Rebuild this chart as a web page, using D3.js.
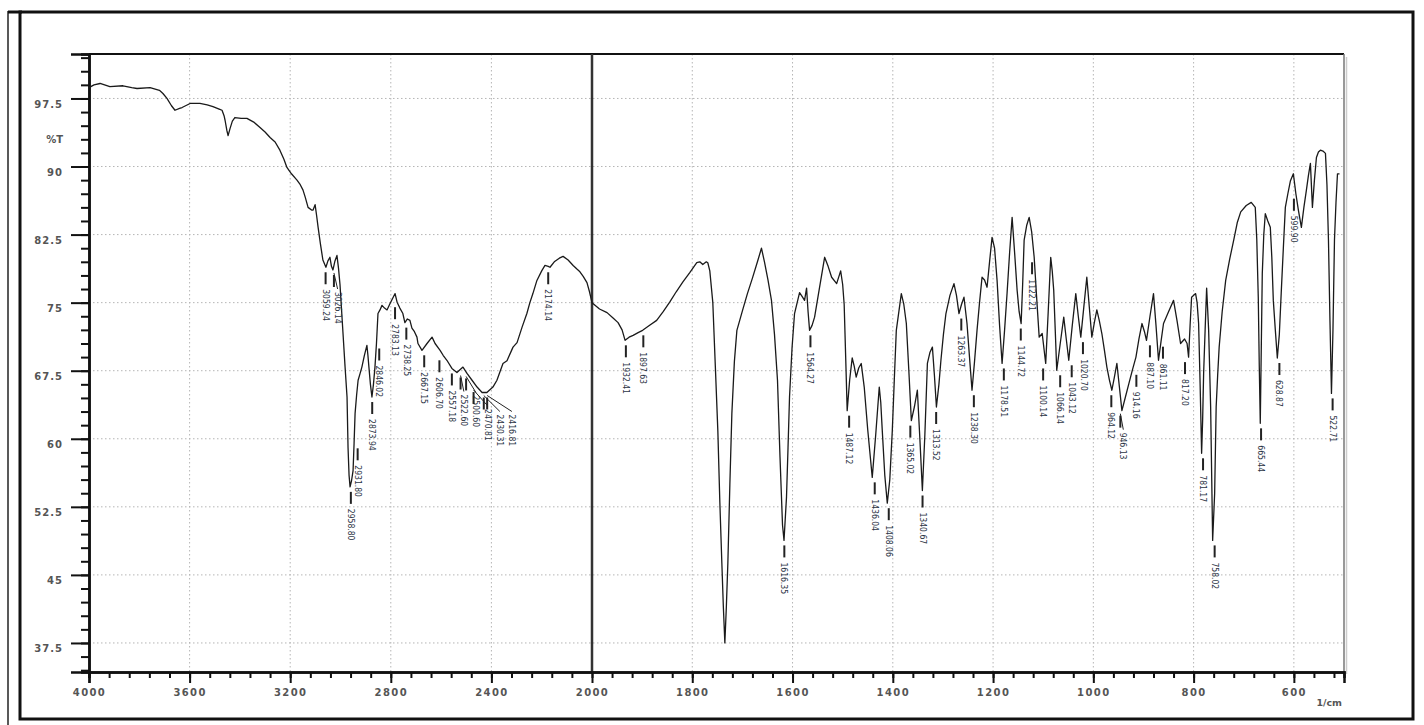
<!DOCTYPE html>
<html><head><meta charset="utf-8">
<script src="https://cdn.jsdelivr.net/npm/d3@7"></script>
<style>body{margin:0;background:#fff}svg{display:block}</style>
</head><body>
<svg id="c" width="1424" height="725"></svg>
<script>
// ---- data ----
const spectrum = [
[4000,98.7],[3980,99.0],[3956,99.15],[3917,98.8],[3865,98.9],[3830,98.7],[3809,98.6],[3757,98.7],[3720,98.4],[3706,98.05],[3690,97.5],[3672,96.7],[3658,96.2],[3640,96.4],[3630,96.5],[3598,96.95],[3559,96.95],[3530,96.8],[3507,96.6],[3480,96.3],[3471,96.2],[3463,95.6],[3459,95.1],[3452,94.0],[3447,93.4],[3439,94.2],[3430,95.0],[3420,95.4],[3395,95.3],[3372,95.3],[3345,94.9],[3320,94.3],[3300,93.8],[3280,93.2],[3260,92.7],[3241,91.8],[3225,90.8],[3213,89.9],[3195,89.2],[3173,88.5],[3160,88.0],[3149,87.4],[3140,86.6],[3129,85.5],[3115,85.2],[3109,85.2],[3101,85.8],[3095,84.6],[3089,83.3],[3080,81.5],[3070,79.7],[3058,78.9],[3050,79.6],[3042,80.0],[3036,79.0],[3030,78.6],[3022,79.6],[3014,80.2],[3008,78.8],[3002,77.0],[2990,71.6],[2982,68.0],[2974,64.6],[2970,59.0],[2966,56.0],[2962,54.7],[2956,55.4],[2950,56.5],[2946,59.5],[2942,62.8],[2936,64.8],[2930,66.45],[2922,67.2],[2915,67.9],[2905,69.2],[2895,70.3],[2891,69.2],[2887,67.9],[2881,66.0],[2875,64.6],[2869,66.0],[2863,67.9],[2857,70.5],[2851,73.8],[2843,74.2],[2835,74.7],[2825,74.4],[2815,74.2],[2803,74.9],[2783,76.0],[2775,75.05],[2764,74.4],[2752,73.8],[2744,72.8],[2734,73.2],[2724,73.05],[2716,72.2],[2706,71.8],[2696,71.2],[2692,70.5],[2676,69.75],[2656,70.5],[2636,71.2],[2624,70.5],[2604,69.75],[2592,69.2],[2577,68.65],[2557,67.75],[2537,67.3],[2513,67.9],[2497,67.2],[2477,66.45],[2457,65.7],[2437,65.1],[2418,65.1],[2394,65.7],[2378,66.45],[2354,68.3],[2338,68.6],[2314,70.1],[2298,70.6],[2278,72.3],[2259,73.8],[2247,75.0],[2235,76.0],[2219,77.45],[2200,78.5],[2187,79.1],[2174,79.0],[2167,78.9],[2150,79.5],[2130,79.9],[2115,80.1],[2095,79.7],[2075,79.1],[2060,78.7],[2048,78.4],[2035,77.9],[2020,77.2],[2010,76.2],[2000,75.0],
[1985,74.3],[1970,73.9],[1958,73.3],[1948,72.8],[1940,72.0],[1934,70.85],[1926,71.2],[1918,71.4],[1908,71.7],[1899,71.95],[1885,72.5],[1871,73.05],[1858,74.0],[1845,75.05],[1832,76.2],[1819,77.25],[1805,78.3],[1791,79.4],[1785,79.5],[1779,79.2],[1772,79.5],[1769,79.4],[1765,78.5],[1759,75.0],[1754,68.0],[1749,60.9],[1745,53.0],[1741,46.3],[1738,41.5],[1735,37.5],[1732,41.5],[1729,46.3],[1725,55.0],[1721,62.8],[1716,68.5],[1711,71.95],[1700,74.1],[1690,76.0],[1680,77.7],[1670,79.5],[1662,81.0],[1656,79.5],[1649,77.5],[1642,75.25],[1636,71.5],[1630,66.45],[1625,58.0],[1620,50.5],[1617,48.8],[1612,53.6],[1609,59.0],[1606,64.6],[1601,70.0],[1596,73.8],[1586,76.1],[1580,75.6],[1576,75.25],[1572,76.6],[1569,74.0],[1566,71.95],[1561,72.5],[1556,73.4],[1546,76.7],[1536,80.0],[1529,79.0],[1522,77.8],[1512,77.1],[1504,78.5],[1500,77.0],[1497,74.8],[1494,69.0],[1491,63.1],[1486,66.5],[1481,68.9],[1477,68.0],[1473,66.8],[1468,67.8],[1463,68.3],[1457,65.7],[1450,61.0],[1441,55.75],[1434,60.5],[1427,65.7],[1424,64.0],[1421,60.9],[1416,56.0],[1411,52.9],[1406,55.5],[1401,60.9],[1397,66.5],[1393,71.95],[1383,76.0],[1378,74.8],[1373,72.7],[1368,67.5],[1363,62.0],[1357,63.5],[1351,65.35],[1346,60.0],[1341,54.3],[1336,60.5],[1331,68.3],[1326,69.5],[1321,70.1],[1317,67.0],[1313,63.5],[1308,66.0],[1304,68.65],[1299,71.5],[1294,73.8],[1286,75.8],[1278,77.1],[1273,75.8],[1268,73.8],[1263,74.8],[1258,75.6],[1252,72.7],[1247,69.0],[1242,65.35],[1237,68.5],[1232,71.95],[1227,75.0],[1222,77.8],[1217,77.5],[1212,76.7],[1207,79.5],[1202,82.2],[1197,81.0],[1192,77.45],[1187,72.5],[1182,68.3],[1177,72.0],[1172,76.1],[1167,80.5],[1162,84.4],[1157,80.5],[1152,76.35],[1148,74.0],[1144,72.7],[1141,77.0],[1138,81.9],[1133,83.5],[1128,84.4],[1123,82.8],[1118,80.0],[1113,75.5],[1108,71.2],[1102,71.6],[1095,68.3],[1090,74.0],[1085,80.0],[1082,78.5],[1079,76.35],[1076,72.0],[1073,67.55],[1066,70.5],[1059,73.4],[1054,71.0],[1049,68.65],[1042,72.5],[1035,76.0],[1030,73.5],[1025,71.2],[1019,74.5],[1013,77.8],[1008,74.5],[1003,71.2],[998,72.8],[993,74.2],[988,73.0],[983,71.6],[978,69.8],[973,67.9],[968,66.5],[963,65.35],[958,66.8],[953,68.3],[948,65.7],[943,63.1],[936,64.6],[929,66.1],[922,67.6],[915,69.0],[909,71.0],[903,72.7],[898,71.8],[894,70.85],[887,73.5],[880,76.0],[875,72.5],[870,68.65],[865,70.7],[860,72.7],[850,74.0],[840,75.25],[833,73.0],[826,70.5],[818,71.0],[813,70.5],[810,69.0],[807,72.5],[804,75.6],[796,76.0],[793,75.0],[790,72.7],[787,66.0],[784,58.4],[782,62.0],[780,67.2],[777,72.0],[774,76.6],[770,72.0],[766,63.5],[762,48.8],[758,54.0],[755,63.5],[752,67.0],[749,70.1],[743,74.0],[736,77.45],[728,79.8],[720,81.9],[713,83.8],[706,85.0],[695,85.7],[685,86.05],[677,85.5],[674,82.0],[671,75.6],[669,68.0],[667,61.7],[665,70.0],[663,78.2],[660,82.5],[657,84.8],[652,84.0],[647,83.3],[644,80.0],[641,75.25],[637,72.0],[633,68.9],[629,71.5],[625,76.35],[621,81.0],[617,85.5],[612,87.0],[607,88.4],[601,89.2],[596,87.0],[591,85.2],[585,83.3],[580,85.5],[575,87.4],[571,89.0],[567,90.35],[563,85.5],[559,88.5],[555,91.0],[551,91.6],[547,91.8],[542,91.7],[537,91.45],[534,88.0],[531,81.9],[528,73.0],[525,65.0],[522,72.0],[519,81.9],[516,86.0],[513,89.2],[509,89.2]
];
const peakValues = [3059.24,3026.14,2958.80,2931.80,2873.94,2846.02,2783.13,2738.25,2667.15,2606.70,2557.18,2522.60,2500.60,2470.81,2430.31,2416.81,2174.14,1932.41,1897.63,1616.35,1564.27,1487.12,1436.04,1408.06,1365.02,1340.67,1313.52,1263.37,1238.30,1178.51,1144.72,1122.21,1100.14,1066.14,1043.12,1020.70,964.12,946.13,914.16,887.10,861.11,817.20,781.17,758.02,665.44,628.87,599.90,522.71];
const peakLabels = ["3059.24","3026.14","2958.80","2931.80","2873.94","2846.02","2783.13","2738.25","2667.15","2606.70","2557.18","2522.60","2500.60","2470.81","2430.31","2416.81","2174.14","1932.41","1897.63","1616.35","1564.27","1487.12","1436.04","1408.06","1365.02","1340.67","1313.52","1263.37","1238.30","1178.51","1144.72","1122.21","1100.14","1066.14","1043.12","1020.70","964.12","946.13","914.16","887.10","861.11","817.20","781.17","758.02","665.44","628.87","599.90","522.71"];
const xTickValues = [4000,3600,3200,2800,2400,2000,1800,1600,1400,1200,1000,800,600];
const xTickLabels = ["4000","3600","3200","2800","2400","2000","1800","1600","1400","1200","1000","800","600"];
const yTickValues = [37.5,45,52.5,60,67.5,75,82.5,90,97.5];
const yTickLabels = ["37.5","45","52.5","60","67.5","75","82.5","90","97.5"];
const xUnit = "1/cm", yUnit = "%T";

// ---- layout ----
const L = 89, R = 1344, T = 54, B = 672;
const svg = d3.select("#c");
const x = d3.scaleLinear().domain([4000, 2000, 500]).range([L, 592, R]);
const y = d3.scaleLinear().domain([34.3, 102.4]).range([B, T]);

// outer frames
svg.append("line").attr("x1",8).attr("x2",8).attr("y1",11).attr("y2",725).attr("stroke","#222").attr("stroke-width",1.5);
svg.append("line").attr("x1",8).attr("x2",22).attr("y1",12).attr("y2",12).attr("stroke","#111").attr("stroke-width",3);
svg.append("rect").attr("x",20).attr("y",12).attr("width",1393).attr("height",707)
  .attr("fill","none").attr("stroke","#111").attr("stroke-width",3);

// grid
const minorX = d3.range(4000, 2000, -80).concat(d3.range(2000, 500, -40));
const minorY = d3.range(34.5, 102.5, 1.5);
const grid = svg.append("g").attr("stroke","#b5b5b5").attr("stroke-width",1).attr("stroke-dasharray","1.5,2.5");
grid.selectAll(".gx").data(xTickValues.filter(v => v !== 4000 && v !== 2000)).join("line")
  .attr("x1", d => x(d)).attr("x2", d => x(d)).attr("y1", T).attr("y2", B);
grid.selectAll(".gy").data(yTickValues).join("line")
  .attr("x1", L).attr("x2", R).attr("y1", d => y(d)).attr("y2", d => y(d));

// plot frame (top & right)
svg.append("line").attr("x1",L).attr("x2",R).attr("y1",T).attr("y2",T).attr("stroke","#111").attr("stroke-width",2);
svg.append("line").attr("x1",R).attr("x2",R).attr("y1",T).attr("y2",B).attr("stroke","#777").attr("stroke-width",1.5);
svg.append("line").attr("x1",R+2.5).attr("x2",R+2.5).attr("y1",T+3).attr("y2",B+2).attr("stroke","#ccc").attr("stroke-width",1.5);

// 2000 divider
svg.append("line").attr("x1",x(2000)).attr("x2",x(2000)).attr("y1",T).attr("y2",B).attr("stroke","#333").attr("stroke-width",2.5);

// axes
const fontAxis = "DejaVu Sans, sans-serif";
const xAxisMinor = d3.axisBottom(x).tickValues(minorX).tickSize(6).tickFormat("");
const xAxis = d3.axisBottom(x).tickValues(xTickValues).tickSize(11).tickPadding(6)
  .tickFormat((d,i) => xTickLabels[i]);
const gxm = svg.append("g").attr("transform",`translate(0,${B})`).call(xAxisMinor);
const gx = svg.append("g").attr("transform",`translate(0,${B})`).call(xAxis);
[gxm, gx].forEach(g => {
  g.select(".domain").attr("stroke","#111").attr("stroke-width",2.5);
  g.selectAll(".tick line").attr("stroke","#111").attr("stroke-width",2);
});
gx.selectAll("text").attr("font-family",fontAxis).attr("font-size",10).attr("letter-spacing","1.4px")
  .attr("fill","#555").attr("font-weight","bold");

const yAxisMinor = d3.axisLeft(y).tickValues(minorY).tickSize(8).tickFormat("");
const yAxis = d3.axisLeft(y).tickValues(yTickValues).tickSize(18).tickPadding(8)
  .tickFormat((d,i) => yTickLabels[i]);
const gym = svg.append("g").attr("transform",`translate(${L},0)`).call(yAxisMinor);
const gy = svg.append("g").attr("transform",`translate(${L},0)`).call(yAxis);
[gym, gy].forEach(g => {
  g.select(".domain").attr("stroke","#111").attr("stroke-width",2.5);
  g.selectAll(".tick line").attr("stroke","#111").attr("stroke-width",2);
});
gy.selectAll("text").attr("font-family",fontAxis).attr("font-size",10).attr("letter-spacing","1px")
  .attr("fill","#555").attr("font-weight","bold").attr("dy","0.9em");

svg.append("text").attr("x",L-26).attr("y",(y(97.5)+y(90))/2 + 11).attr("text-anchor","end")
  .attr("font-family",fontAxis).attr("font-size",10).attr("font-weight","bold").attr("fill","#555").text(yUnit);
svg.append("text").attr("x",R-2).attr("y",B+34).attr("text-anchor","end")
  .attr("font-family",fontAxis).attr("font-size",9.5).attr("font-weight","bold").attr("fill","#555").text(xUnit);

// clip
svg.append("clipPath").attr("id","clip").append("rect").attr("x",L).attr("y",T).attr("width",R-L).attr("height",B-T);
const plot = svg.append("g").attr("clip-path","url(#clip)");

// spectrum
const line = d3.line().x(d => x(d[0])).y(d => y(d[1]));
plot.append("path").datum(spectrum).attr("d", line).attr("fill","none")
  .attr("stroke","#1a1a1a").attr("stroke-width",1.3).attr("stroke-linejoin","round");

// peak markers and labels
const placed = [];
peakValues.forEach((v,i) => {
  const px = x(v);
  const near = spectrum.filter(p => Math.abs(x(p[0]) - px) <= 4);
  const tmin = near.length ? d3.min(near, p => p[1]) : 70;
  const py = y(tmin);
  const top = py + 22, len = 28;
  let lx = px;
  let moved = true;
  while (moved) {
    moved = false;
    for (const o of placed) {
      if (Math.abs(lx - o.lx) < 12 && top < o.top + len && o.top < top + len) {
        lx = o.lx + 12; moved = true;
      }
    }
  }
  placed.push({lx, top});
  plot.append("line").attr("x1",px).attr("x2",px).attr("y1",py+5).attr("y2",py+17)
    .attr("stroke","#222").attr("stroke-width",2);
  if (lx - px > 2) {
    plot.append("polyline").attr("points",`${px},${py+3} ${lx},${top-3}`)
      .attr("fill","none").attr("stroke","#222").attr("stroke-width",1);
  }
  plot.append("text").attr("transform",`translate(${lx},${top}) rotate(90)`)
    .attr("dy","0.35em").attr("font-family","Liberation Sans Narrow, DejaVu Sans Condensed, sans-serif")
    .attr("font-stretch","condensed").attr("font-size",8.5).attr("fill","#2b3445").text(peakLabels[i]);
});
</script>
</body></html>
